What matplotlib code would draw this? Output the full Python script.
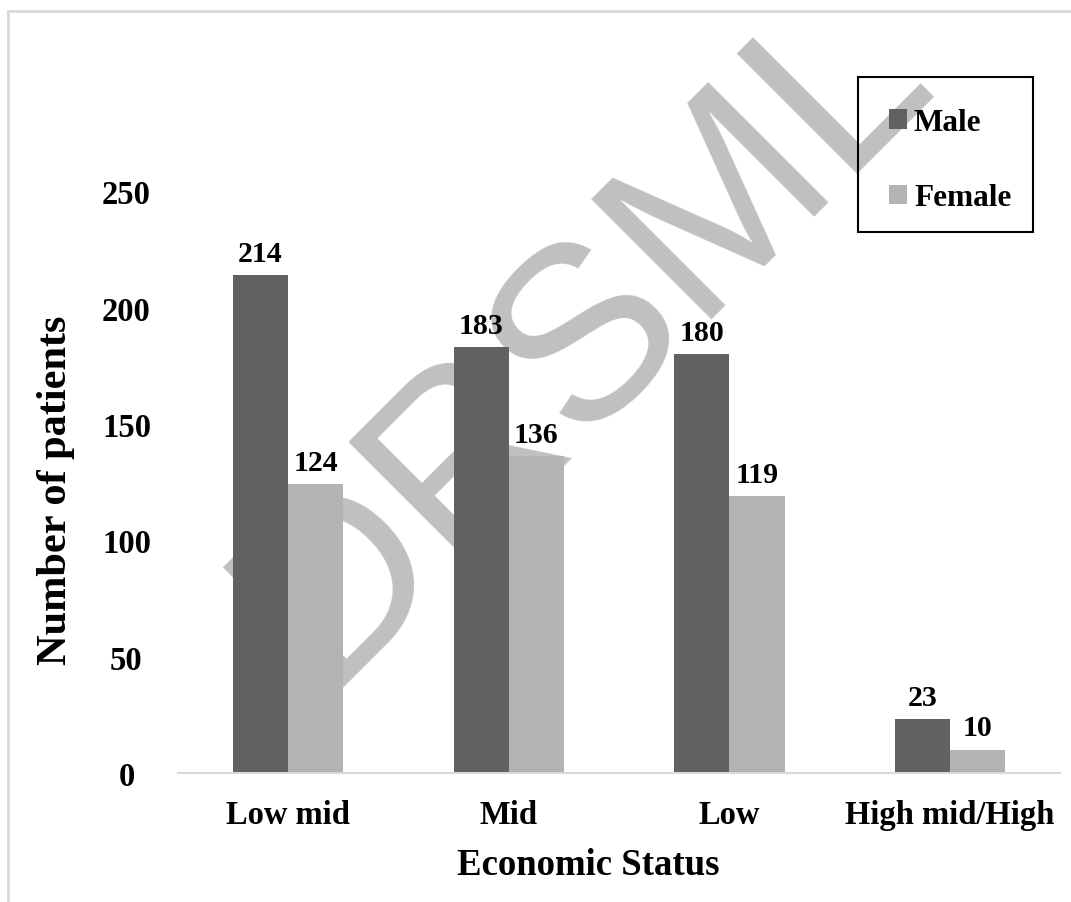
import numpy as np
import matplotlib.pyplot as plt
from matplotlib.patches import Rectangle

plt.rcParams['font.family'] = ['Liberation Serif', 'DejaVu Serif']
plt.rcParams['font.weight'] = 'bold'

categories = ['Low mid', 'Mid', 'Low', 'High mid/High']
male = [214, 183, 180, 23]
female = [124, 136, 119, 10]
yticks = [0, 50, 100, 150, 200, 250]

fig = plt.figure(figsize=(10.71, 9.03), dpi=100)
ax = fig.add_axes([0.166, 0.143, 0.824, 0.773])

# outer light grey frame
fig.patches.append(Rectangle((8 / 1071, -0.05), 1.1, 1 - 12 / 903 + 0.05, transform=fig.transFigure,
                             fill=False, edgecolor='#d9d9d9', linewidth=2))

# watermark behind the bars
ax.text(0.545, 0.628, 'DRSML', transform=fig.transFigure, fontsize=178, family='Liberation Sans',
        fontweight='normal', color='#c0c0c0', rotation=45, ha='center', va='center',
        zorder=1, clip_on=False)

x = np.arange(len(categories))
w = 0.25
b1 = ax.bar(x - w / 2, male, w, color='#616161', label='Male', zorder=2)
b2 = ax.bar(x + w / 2, female, w, color='#b3b3b3', label='Female', zorder=2)

for bars, vals in [(b1, male), (b2, female)]:
    for r, v in zip(bars, vals):
        ax.text(r.get_x() + r.get_width() / 2, v + 3.5, str(v), ha='center', va='bottom',
                fontsize=21.5, fontweight='bold', zorder=3)

ax.set_xlim(-0.5, 3.5)
ax.set_ylim(0, 300)
ax.set_yticks(yticks)
ax.set_yticklabels([str(t) for t in yticks], fontsize=23.5, ha='center')
ax.set_xticks(x)
ax.set_xticklabels(categories, fontsize=23.5)
ax.tick_params(axis='both', length=0)
ax.tick_params(axis='y', pad=37)
ax.tick_params(axis='x', pad=19)

for s in ['top', 'right', 'left']:
    ax.spines[s].set_visible(False)
ax.spines['bottom'].set_color('#d9d9d9')
ax.spines['bottom'].set_linewidth(1.5)
ax.spines['bottom'].set_zorder(2.5)

fig.text(588 / 1071, 1 - 866 / 903, 'Economic Status', fontsize=26.5, fontweight='bold',
         ha='center', va='center')
fig.text(56 / 1071, 1 - 490 / 903, 'Number of patients', fontsize=30.5, fontweight='bold',
         ha='center', va='center', rotation=90)

leg = ax.legend(loc='upper left', bbox_to_anchor=(889 / 1071, 1 - 109 / 903), bbox_transform=fig.transFigure,
                fontsize=22.5, frameon=False, handlelength=0.58, handleheight=0.58,
                handletextpad=0.22, labelspacing=1.48, borderpad=0, borderaxespad=0)
leg.set_zorder(4)
fig.patches.append(Rectangle((858 / 1071, 1 - 233 / 903), 175 / 1071, 155 / 903, transform=fig.transFigure,
                             fill=False, edgecolor='black', linewidth=1.5, zorder=4))

plt.savefig('out.png', dpi=100)
